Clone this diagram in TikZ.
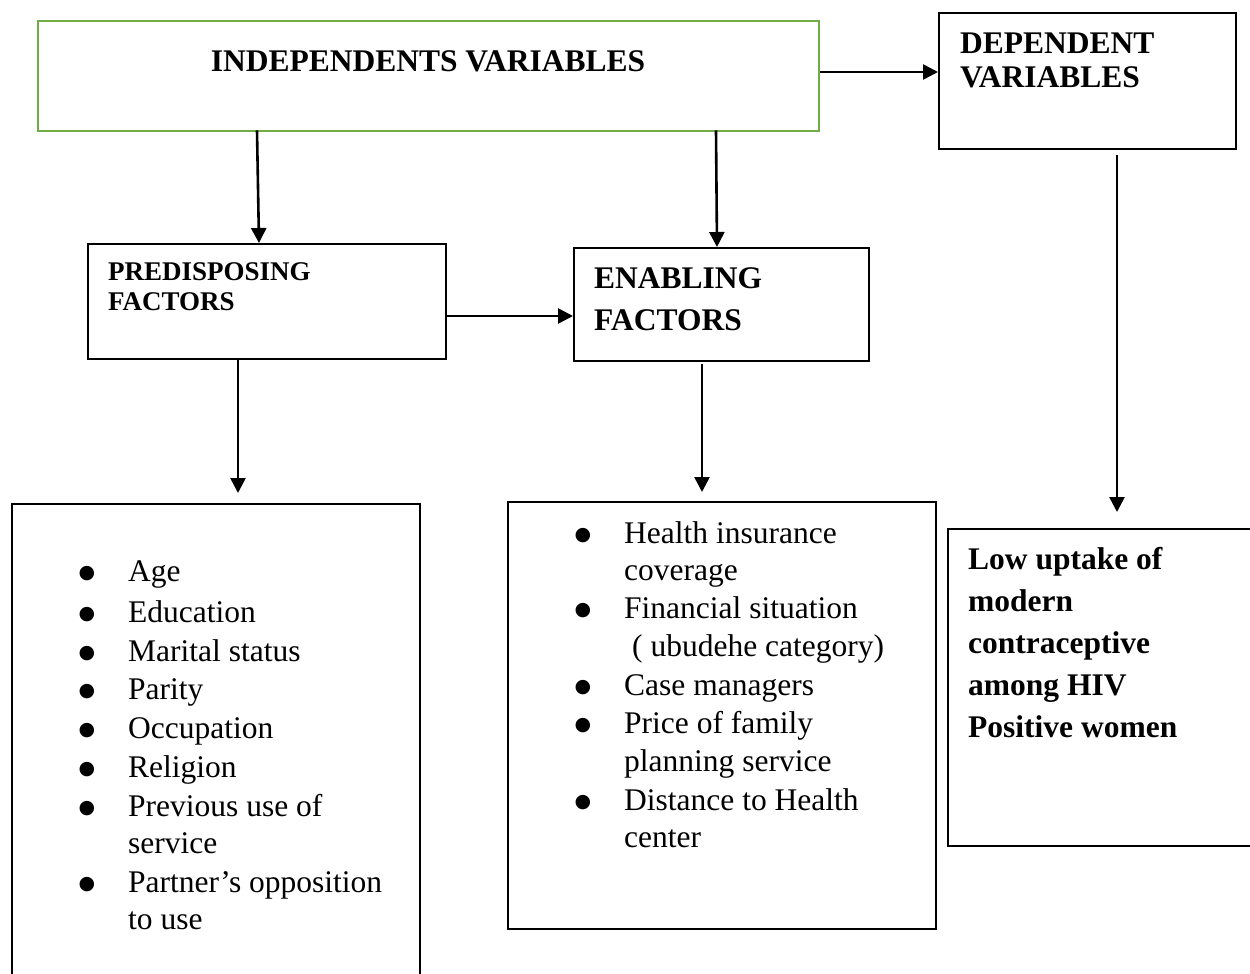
\documentclass[tikz,border=0pt]{standalone}
\usepackage{fontspec}
\setmainfont{Liberation Serif}
\newfontfamily\bulfont{DejaVu Sans}
\usetikzlibrary{arrows.meta}
\definecolor{boxgreen}{RGB}{112,173,71}
\begin{document}
\begin{tikzpicture}[x=1pt,y=-1pt,
  box/.style={draw=black,line width=2pt,inner sep=0pt,anchor=north west},
  arr/.style={-{Triangle[length=15pt,width=15pt]},line width=2.6pt},
  hd/.style={anchor=base west,inner sep=0pt,font=\fontsize{31.5}{35}\selectfont\bfseries},
  hds/.style={anchor=base west,inner sep=0pt,font=\fontsize{27}{30}\selectfont\bfseries},
  itm/.style={anchor=base west,inner sep=0pt,font=\fontsize{31.5}{37}\selectfont},
  bul/.style={anchor=base,inner sep=0pt,font=\bulfont\fontsize{19}{22}\selectfont}]
\useasboundingbox (0,0) rectangle (1250,974);
\clip (0,0) rectangle (1250,974);
% boxes
\node[box,draw=boxgreen,line width=2.4pt,minimum width=781pt,minimum height=110pt] (indep) at (37,20) {};
\node[box,minimum width=297pt,minimum height=136pt] (dep) at (938,12) {};
\node[box,minimum width=358pt,minimum height=115pt] (pred) at (87,243) {};
\node[box,minimum width=295pt,minimum height=113pt] (enab) at (573,247) {};
\node[box,minimum width=408pt,minimum height=500pt] (plist) at (11,503) {};
\node[box,minimum width=428pt,minimum height=427pt] (elist) at (507,501) {};
\node[box,minimum width=320pt,minimum height=317pt] (fbox) at (947,528) {};
% headings
\node[hd,anchor=base] (tindep) at (428,72) {INDEPENDENTS VARIABLES};
\node[hd] (tdep1) at (960,53) {DEPENDENT};
\node[hd] (tdep2) at (960,88) {VARIABLES};
\node[hds] (tpred1) at (108,280) {PREDISPOSING};
\node[hds] (tpred2) at (108,310) {FACTORS};
\node[hd] (tenab1) at (594,288) {ENABLING};
\node[hd] (tenab2) at (594,330) {FACTORS};
\node[hd] (tf1) at (968,569) {Low uptake of};
\node[hd] (tf2) at (968,611) {modern};
\node[hd] (tf3) at (968,653) {contraceptive};
\node[hd] (tf4) at (968,695) {among HIV};
\node[hd] (tf5) at (968,737) {Positive women};
% left list
\foreach \y in {581,622,661,699,738,777,816,892} \node[bul] at (87,\y-3) {●};
\node[itm] (p1) at (128,581) {Age};
\node[itm] (p2) at (128,622) {Education};
\node[itm] (p3) at (128,661) {Marital status};
\node[itm] (p4) at (128,699) {Parity};
\node[itm] (p5) at (128,738) {Occupation};
\node[itm] (p6) at (128,777) {Religion};
\node[itm] (p7) at (128,816) {Previous use of};
\node[itm] (p7b) at (128,853) {service};
\node[itm] (p8) at (128,892) {Partner’s opposition};
\node[itm] (p8b) at (128,929) {to use};
% enabling list
\foreach \y in {543,618,695,733,810} \node[bul] at (583,\y-3) {●};
\node[itm] (e1) at (624,543) {Health insurance};
\node[itm] (e1b) at (624,580) {coverage};
\node[itm] (e2) at (624,618) {Financial situation};
\node[itm] (e2b) at (632,656) {( ubudehe category)};
\node[itm] (e3) at (624,695) {Case managers};
\node[itm] (e4) at (624,733) {Price of family};
\node[itm] (e4b) at (624,771) {planning service};
\node[itm] (e5) at (624,810) {Distance to Health};
\node[itm] (e5b) at (624,847) {center};
% connectors
\coordinate (s1) at (257,0);
\coordinate (t1) at (259,0);
\coordinate (s2) at (716,0);
\coordinate (t2) at (717,0);
\coordinate (h1) at (0,72);
\coordinate (h2) at (0,316);
\coordinate (v1) at (238,0);
\coordinate (v2) at (702,0);
\coordinate (v3) at (1117,0);
\draw[arr] (indep.east |- h1) -- (dep.west |- h1);
\draw[arr] ([yshift=2pt]indep.south -| s1) -- (pred.north -| t1);
\draw[arr] ([yshift=2pt]indep.south -| s2) -- (enab.north -| t2);
\draw[arr] (pred.east |- h2) -- (enab.west |- h2);
\draw[arr,shorten >=10pt] (pred.south -| v1) -- (plist.north -| v1);
\draw[arr,shorten >=9pt] ([yshift=-2pt]enab.south -| v2) -- (elist.north -| v2);
\draw[arr,shorten <=5pt,shorten >=16pt] (dep.south -| v3) -- (fbox.north -| v3);
\end{tikzpicture}
\end{document}
